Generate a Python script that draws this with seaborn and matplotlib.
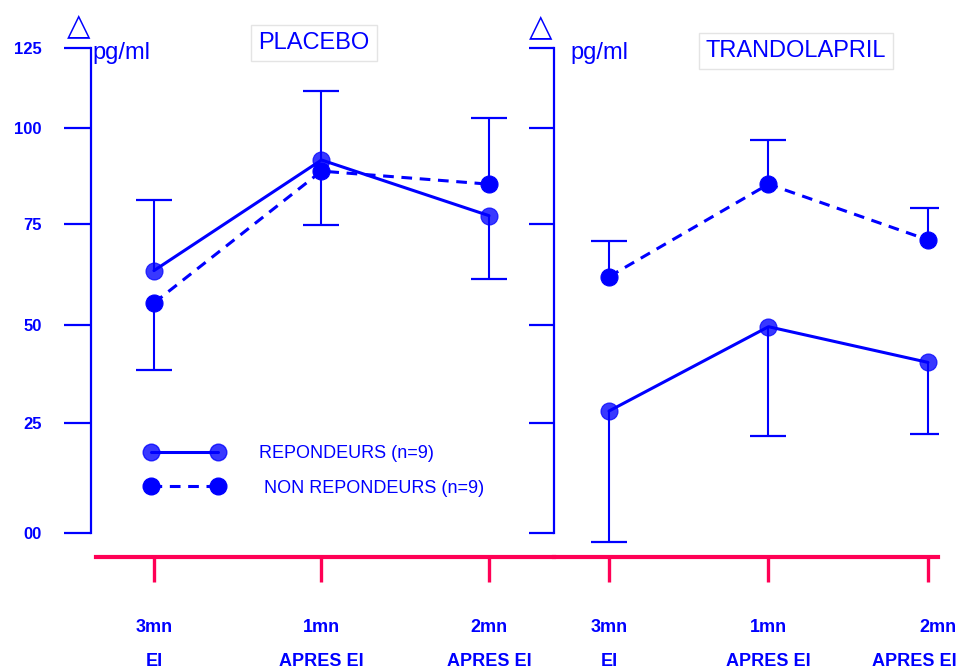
import numpy as np
import pandas as pd
import matplotlib
matplotlib.use("Agg")
import matplotlib.pyplot as plt
from matplotlib.lines import Line2D
from matplotlib.transforms import ScaledTranslation
import seaborn as sns

# ---- data -------------------------------------------------------------
times = ["3mn\nEI", "1mn\nAPRES EI", "2mn\nAPRES EI"]
groups = ["REPONDEURS (n=9)", " NON REPONDEURS (n=9)"]
y_ticks = [0, 25, 50, 75, 100, 125]
y_ticklabels = ["00", "25", "50", "75", "100", "125"]

placebo_rep = [63.4, 91.6, 77.1]
placebo_non = [55.4, 88.7, 85.3]
placebo_rep_sem = [17.8, 19.9, 15.7]
placebo_non_sem = [16.9, 14.0, 17.7]
placebo_rep_side = [1, 1, -1]      # +1: bar drawn upward, -1: downward
placebo_non_side = [-1, -1, 1]

trando_rep = [28.0, 49.5, 40.4]
trando_non = [61.9, 85.3, 71.0]
trando_rep_sem = [30.0, 27.6, 18.0]
trando_non_sem = [8.9, 11.5, 8.1]
trando_rep_side = [-1, -1, -1]
trando_non_side = [1, 1, 1]

# the printed scale is hand-graduated: uneven distance between graduations
scale_gaps = [110, 98, 101, 96, 80]

BLUE = "#0000ff"
RED = "#ff0055"

# ---- uneven value scale -------------------------------------------------
_vals = np.array(y_ticks, dtype=float)
_grad = np.concatenate([[0.0], np.cumsum(scale_gaps)])
_v_ext = np.concatenate([[_vals[0] - 100], _vals, [_vals[-1] + 100]])
_g_ext = np.concatenate([[_grad[0] - 4 * scale_gaps[0]], _grad,
                         [_grad[-1] + 4 * scale_gaps[-1]]])


def fwd(v):
    return np.interp(v, _v_ext, _g_ext)


def inv(g):
    return np.interp(g, _g_ext, _v_ext)


# ---- figure -------------------------------------------------------------
sns.set_style("white")
plt.rcParams["font.family"] = ["Liberation Sans", "DejaVu Sans"]

W, H = 962, 669
fig = plt.figure(figsize=(W / 100, H / 100), dpi=100)


def px_axes(x0, x1, ytop, ybot):
    return fig.add_axes([x0 / W, (H - ybot) / H, (x1 - x0) / W, (ybot - ytop) / H])


axL = px_axes(96, 553.7, 47.7, 557)
axR = px_axes(553.7, 938, 47.7, 557)


def draw_panel(ax, rep, non, rep_sem, non_sem, rep_side, non_side):
    pos = np.arange(len(times))
    df = pd.DataFrame({
        "pos": np.concatenate([pos, pos]),
        "value": rep + non,
        "group": [groups[0]] * len(rep) + [groups[1]] * len(non),
    })
    # one-sided SEM bars
    for vals, sem, side in ((rep, rep_sem, rep_side), (non, non_sem, non_side)):
        y = np.asarray(vals, float)
        end = y + np.asarray(side) * np.asarray(sem, float)
        ax.vlines(pos, y, end, color=BLUE, lw=1.5, zorder=1)
        ax.plot(pos, end, ls="none", marker="_", ms=26, mew=1.6,
                color=BLUE, zorder=1)
    sns.lineplot(data=df, x="pos", y="value", hue="group", style="group",
                 hue_order=groups, style_order=groups,
                 palette=[BLUE, BLUE], dashes=["", (3.5, 2.5)],
                 errorbar=None, lw=2.2, legend=False, ax=ax, zorder=2)
    sns.scatterplot(data=df[df.group == groups[0]], x="pos", y="value",
                    color=BLUE, alpha=0.78, s=150, edgecolor=BLUE,
                    linewidth=0.8, legend=False, ax=ax, zorder=3)
    sns.scatterplot(data=df[df.group == groups[1]], x="pos", y="value",
                    color=BLUE, s=150, edgecolor=BLUE, linewidth=0.8,
                    legend=False, ax=ax, zorder=3)


draw_panel(axL, placebo_rep, placebo_non, placebo_rep_sem, placebo_non_sem,
           placebo_rep_side, placebo_non_side)
draw_panel(axR, trando_rep, trando_non, trando_rep_sem, trando_non_sem,
           trando_rep_side, trando_non_side)

axL.set_xlim(-0.346, 2.386)
axR.set_xlim(-0.347, 2.063)

for ax in (axL, axR):
    ax.set_yscale("function", functions=(fwd, inv))
    ax.set_ylim(-5.5, 125)
    ax.set_yticks(y_ticks)
    ax.set_xticks(range(len(times)))
    ax.set_xticklabels(times, fontweight="bold", linespacing=2.25,
                       fontsize=13)
    ax.set_xlabel("")
    ax.set_ylabel("")
    ax.patch.set_visible(False)
    for s in ("top", "right"):
        ax.spines[s].set_visible(False)
    ax.spines["left"].set_bounds(0, 125)
    ax.spines["left"].set_color(BLUE)
    ax.spines["left"].set_linewidth(1.6)
    ax.spines["bottom"].set_color(RED)
    ax.spines["bottom"].set_linewidth(3)
    ax.tick_params(axis="x", bottom=True, colors=RED, labelcolor=BLUE,
                   length=18, width=2.4, direction="out", pad=27)
    ax.tick_params(axis="y", left=True, colors=BLUE, width=1.6,
                   direction="out")

axL.spines["left"].set_position(("outward", 3.6))
axL.set_yticklabels(y_ticklabels, fontweight="bold", fontsize=12)
axL.tick_params(axis="y", length=19.4, pad=16)
axR.tick_params(axis="y", length=18, labelleft=False)

# last label sits flush with the right edge
last = axR.get_xticklabels()[-1]
last.set_ha("right")
last.set_multialignment("right")
last.set_transform(last.get_transform() +
                   ScaledTranslation(29 / 100, 0, fig.dpi_scale_trans))

# ---- legend ---------------------------------------------------------------
handles = [
    Line2D([], [], color=BLUE, lw=2.2, marker="o", ms=12,
           mfc=(0, 0, 1, 0.78), mec=(0, 0, 1, 0.78)),
    Line2D([], [], color=BLUE, lw=2.2, ls=(0, (3.5, 2.5)), marker="o",
           ms=12, mfc=BLUE, mec=BLUE),
]
axL.legend(handles, groups, numpoints=2, handlelength=4.29,
           handletextpad=2.0, labelspacing=0.97, fontsize=13,
           labelcolor=BLUE, frameon=False, borderpad=0, borderaxespad=0,
           loc="upper left", bbox_to_anchor=(145.8 / W, 1 - 445 / H),
           bbox_transform=fig.transFigure)

# ---- annotations ------------------------------------------------------
box = dict(boxstyle="square,pad=0.3", fc="white", ec="#e4e4e4", lw=1)
fig.text(314 / W, 1 - 43 / H, "PLACEBO", ha="center", va="center",
         fontsize=17, color=BLUE, bbox=box)
fig.text(796 / W, 1 - 51 / H, "TRANDOLAPRIL", ha="center", va="center",
         fontsize=17, color=BLUE, bbox=box)
fig.text(92 / W, 1 - 58.5 / H, "pg/ml", ha="left", va="baseline",
         fontsize=17, color=BLUE)
fig.text(570 / W, 1 - 59.5 / H, "pg/ml", ha="left", va="baseline",
         fontsize=17, color=BLUE)
fig.text(79 / W, 1 - 25.5 / H, "\u25b3", ha="center", va="center",
         fontsize=22, color=BLUE, family="DejaVu Sans")
fig.text(541 / W, 1 - 26.5 / H, "\u25b3", ha="center", va="center",
         fontsize=22, color=BLUE, family="DejaVu Sans")

fig.savefig("out.png", dpi=100)
